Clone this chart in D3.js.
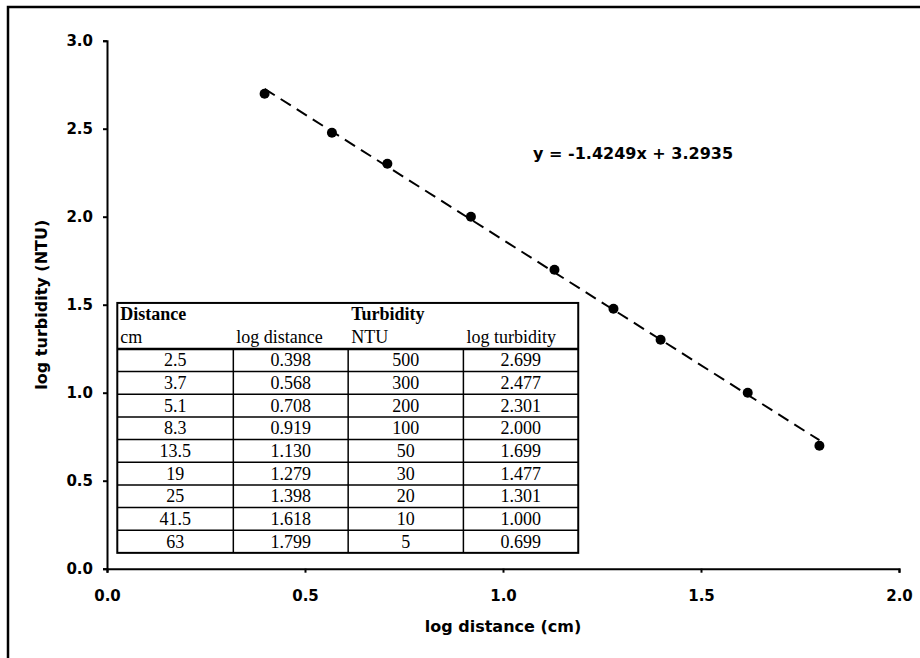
<!DOCTYPE html>
<html>
<head>
<meta charset="utf-8">
<script src="https://cdn.jsdelivr.net/npm/d3@7"></script>
<style>
  body { margin: 0; background: #fff; }
  .axis text { font-family: "DejaVu Sans", Verdana, sans-serif; font-weight: bold; font-size: 15px; fill: #000; }
  .axis path, .axis line { stroke: #000; stroke-width: 2; }
  .title { font-family: "DejaVu Sans", Verdana, sans-serif; font-weight: bold; font-size: 16px; }
  .tbl { font-family: "Liberation Serif", "Times New Roman", serif; font-size: 18px; }
</style>
</head>
<body>
<div id="chart"></div>
<script>
var distanceCm = ["2.5", "3.7", "5.1", "8.3", "13.5", "19", "25", "41.5", "63"];
var logDistance = [0.398, 0.568, 0.708, 0.919, 1.130, 1.279, 1.398, 1.618, 1.799];
var turbidityNtu = ["500", "300", "200", "100", "50", "30", "20", "10", "5"];
var logTurbidity = [2.699, 2.477, 2.301, 2.000, 1.699, 1.477, 1.301, 1.000, 0.699];
var xTicks = [0, 0.5, 1.0, 1.5, 2.0];
var yTicks = [0, 0.5, 1.0, 1.5, 2.0, 2.5, 3.0];
var slope = -1.4249;
var intercept = 3.2935;

var svgWidth = 920;
var svgHeight = 658;

var margin = { top: 40.7, right: 21, bottom: 89.3, left: 107 };
var width = svgWidth - margin.left - margin.right;
var height = svgHeight - margin.top - margin.bottom;

var svg = d3.select("#chart")
  .append("svg")
  .attr("width", svgWidth)
  .attr("height", svgHeight);

// frame (only top and left edges show in the picture)
svg.append("path")
  .attr("d", "M8,658 V7 H920")
  .attr("fill", "none")
  .attr("stroke", "#000")
  .attr("stroke-width", 2.5);

var chartGroup = svg.append("g")
  .attr("transform", `translate(${margin.left}, ${margin.top})`);

var x = d3.scaleLinear().domain([0, 2]).range([0, width]);
var y = d3.scaleLinear().domain([0, 3]).range([height, 0]);

chartGroup.append("g")
  .attr("class", "axis")
  .attr("transform", `translate(0, ${height})`)
  .call(d3.axisBottom(x).tickValues(xTicks).tickFormat(d3.format(".1f")).tickSize(4).tickPadding(18));

chartGroup.append("g")
  .attr("class", "axis")
  .call(d3.axisLeft(y).tickValues(yTicks).tickFormat(d3.format(".1f")).tickSize(4).tickPadding(10));

chartGroup.append("text")
  .attr("class", "title")
  .attr("x", width / 2)
  .attr("y", height + 63)
  .attr("text-anchor", "middle")
  .text("log distance (cm)");

chartGroup.append("text")
  .attr("class", "title")
  .attr("transform", `translate(-60, ${height / 2}) rotate(-90)`)
  .attr("text-anchor", "middle")
  .text("log turbidity (NTU)");

// data table drawn inside the plot
var colX = [0.026, 0.319, 0.609, 0.9, 1.19];
var tblTop = y(1.51);
var tblBottom = y(0.09);
var headH = 46;
var rowH = (tblBottom - tblTop - headH) / distanceCm.length;
var tbl = chartGroup.append("g").attr("class", "tbl");

var rows = distanceCm.map(function(d, i) {
  return [d, logDistance[i].toFixed(3), turbidityNtu[i], logTurbidity[i].toFixed(3)];
});

tbl.append("rect")
  .attr("x", x(colX[0])).attr("y", tblTop)
  .attr("width", x(colX[4]) - x(colX[0])).attr("height", tblBottom - tblTop)
  .attr("fill", "#fff").attr("stroke", "#000").attr("stroke-width", 2);

// header
var head1 = [["Distance", 0], ["Turbidity", 2]];
var head2 = ["cm", "log distance", "NTU", "log turbidity"];
head1.forEach(function(h) {
  tbl.append("text")
    .attr("x", x(colX[h[1]]) + 3)
    .attr("y", tblTop + 17)
    .attr("font-weight", "bold")
    .text(h[0]);
});
head2.forEach(function(h, j) {
  tbl.append("text")
    .attr("x", x(colX[j]) + 3)
    .attr("y", tblTop + 40)
    .text(h);
});

tbl.append("line")
  .attr("x1", x(colX[0])).attr("x2", x(colX[4]))
  .attr("y1", tblTop + headH).attr("y2", tblTop + headH)
  .attr("stroke", "#000").attr("stroke-width", 2.5);

rows.forEach(function(r, i) {
  var top = tblTop + headH + i * rowH;
  if (i > 0) {
    tbl.append("line")
      .attr("x1", x(colX[0])).attr("x2", x(colX[4]))
      .attr("y1", top).attr("y2", top)
      .attr("stroke", "#000").attr("stroke-width", 1.5);
  }
  r.forEach(function(v, j) {
    tbl.append("text")
      .attr("x", (x(colX[j]) + x(colX[j + 1])) / 2)
      .attr("y", top + rowH / 2 + 6)
      .attr("text-anchor", "middle")
      .text(v);
  });
});

[1, 2, 3].forEach(function(j) {
  tbl.append("line")
    .attr("x1", x(colX[j])).attr("x2", x(colX[j]))
    .attr("y1", tblTop + headH).attr("y2", tblBottom)
    .attr("stroke", "#000").attr("stroke-width", 1.5);
});

// trend line
var x0 = d3.min(logDistance), x1 = d3.max(logDistance);
chartGroup.append("line")
  .attr("x1", x(x0)).attr("y1", y(slope * x0 + intercept))
  .attr("x2", x(x1)).attr("y2", y(slope * x1 + intercept))
  .attr("stroke", "#000")
  .attr("stroke-width", 2)
  .attr("stroke-dasharray", "12,7");

chartGroup.selectAll("circle")
  .data(logDistance)
  .enter()
  .append("circle")
  .attr("cx", d => x(d))
  .attr("cy", (d, i) => y(logTurbidity[i]))
  .attr("r", 5)
  .attr("fill", "#000");

chartGroup.append("text")
  .attr("class", "title")
  .attr("font-size", "16.5px")
  .attr("x", x(1.076))
  .attr("y", y(2.33))
  .text("y = " + slope + "x + " + intercept);
</script>
</body>
</html>
